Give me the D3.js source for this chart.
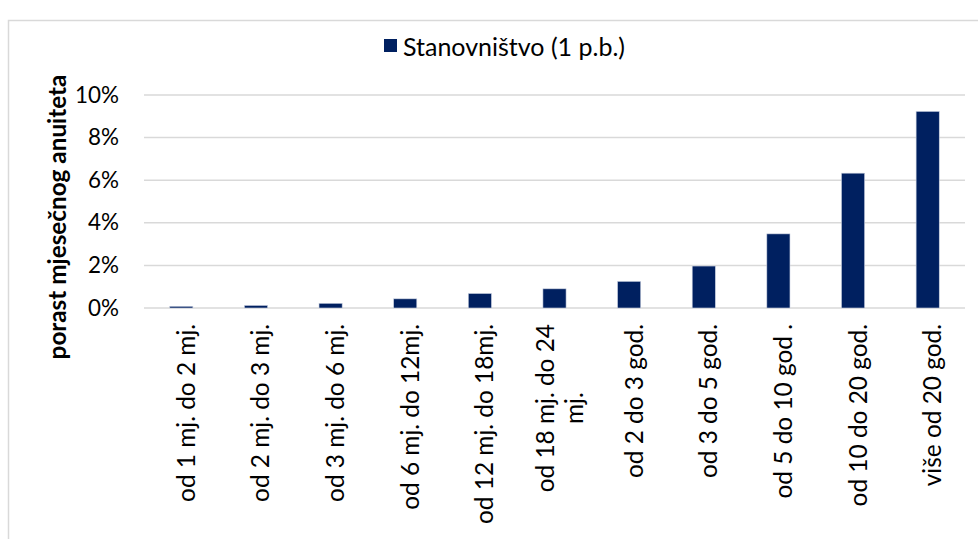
<!DOCTYPE html>
<html>
<head>
<meta charset="utf-8">
<script src="https://cdn.jsdelivr.net/npm/d3@7"></script>
<style>
  html, body { margin: 0; padding: 0; background: #fff; }
  svg { display: block; }
  text { font-family: Lato, "Open Sans", sans-serif; fill: #000; }
</style>
</head>
<body>
<svg id="chart" width="978" height="539"></svg>
<script>
const categories = [
  "od 1 mj. do 2 mj.",
  "od 2 mj. do 3 mj.",
  "od 3 mj. do 6 mj.",
  "od 6 mj. do 12mj.",
  "od 12 mj. do 18mj.",
  "od 18 mj. do 24|mj.",
  "od 2 do 3 god.",
  "od 3 do 5 god.",
  "od 5 do 10 god .",
  "od 10 do 20 god.",
  "više od 20 god."
];
const seriesName = "Stanovništvo (1 p.b.)";
const values = [0.0008, 0.0012, 0.0022, 0.0043, 0.0068, 0.0090, 0.0125, 0.0197, 0.0348, 0.0633, 0.0923];
const yTicks = [0, 0.02, 0.04, 0.06, 0.08, 0.10];
const yTitle = "porast mjesečnog anuiteta";

const svg = d3.select("#chart");
const plot = { left: 144, right: 965, top: 95, bottom: 308 };
const barColor = "#002060";

// fit a font size so that a sample string reaches a target width
function fitSize(str, target, weight) {
  const t = svg.append("text").attr("font-size", 100)
    .attr("font-weight", weight || "normal").text(str);
  const w = t.node().getComputedTextLength();
  t.remove();
  return 100 * target / w;
}
const fsLabel = fitSize("od 1 mj. do 2 mj.", 178);
const fsTick = fitSize("10%", 44);
const fsLegend = fitSize(seriesName, 222);
const fsTitle = fitSize(yTitle, 285, "bold");

// chart border
svg.append("rect")
  .attr("x", 8.5).attr("y", 20.5)
  .attr("width", 1000).attr("height", 600)
  .attr("fill", "none").attr("stroke", "#d9d9d9").attr("stroke-width", 1.5);

const x = d3.scaleBand()
  .domain(categories)
  .range([plot.left, plot.right])
  .paddingInner(0.69)
  .paddingOuter(0.345);

const y = d3.scaleLinear()
  .domain([0, 0.10])
  .range([plot.bottom, plot.top]);

// gridlines
svg.append("g")
  .selectAll("line")
  .data(yTicks)
  .join("line")
  .attr("x1", plot.left).attr("x2", plot.right)
  .attr("y1", d => y(d)).attr("y2", d => y(d))
  .attr("stroke", "#d9d9d9").attr("stroke-width", 1.5);

// y axis tick labels
const yAxis = d3.axisLeft(y)
  .tickValues(yTicks)
  .tickFormat(d3.format(".0%"))
  .tickSize(0)
  .tickPadding(25);
const yg = svg.append("g")
  .attr("transform", `translate(${plot.left},0)`)
  .call(yAxis);
yg.select(".domain").remove();
yg.selectAll("text")
  .attr("font-family", "Lato, sans-serif")
  .attr("font-size", fsTick)
  .attr("fill", "#000");

// bars
svg.append("g")
  .selectAll("rect")
  .data(values)
  .join("rect")
  .attr("x", (d, i) => x(categories[i]))
  .attr("width", x.bandwidth())
  .attr("y", d => y(d))
  .attr("height", d => y(0) - y(d))
  .attr("fill", barColor)
  .attr("stroke", "#c9d0e0")
  .attr("stroke-width", 0.6);

// x category labels (rotated)
const labelTop = 324;
const lineH = 29;
const xl = svg.append("g");
categories.forEach((c) => {
  const lines = c.split("|");
  const cx = x(c) + x.bandwidth() / 2 + 4;
  const n = lines.length;
  const g = xl.append("g");
  const texts = lines.map((ln, k) => {
    const off = (k - (n - 1) / 2) * lineH;
    return g.append("text")
      .attr("font-size", fsLabel)
      .attr("dominant-baseline", "central")
      .text(ln)
      .attr("data-off", off);
  });
  const w0 = texts[0].node().getComputedTextLength();
  const center = labelTop + w0 / 2;
  texts.forEach((t) => {
    const off = +t.attr("data-off");
    t.attr("text-anchor", "middle")
     .attr("transform", `translate(${cx + off},${center}) rotate(-90)`);
  });
});

// y axis title
svg.append("text")
  .attr("transform", `translate(66,217) rotate(-90)`)
  .attr("text-anchor", "middle")
  .attr("font-size", fsTitle)
  .attr("font-weight", "bold")
  .text(yTitle);

// legend
const lg = svg.append("g");
lg.append("rect")
  .attr("x", 384).attr("y", 39)
  .attr("width", 13).attr("height", 13)
  .attr("fill", barColor);
lg.append("text")
  .attr("x", 403).attr("y", 46)
  .attr("dominant-baseline", "central")
  .attr("font-size", fsLegend)
  .text(seriesName);
</script>
</body>
</html>
